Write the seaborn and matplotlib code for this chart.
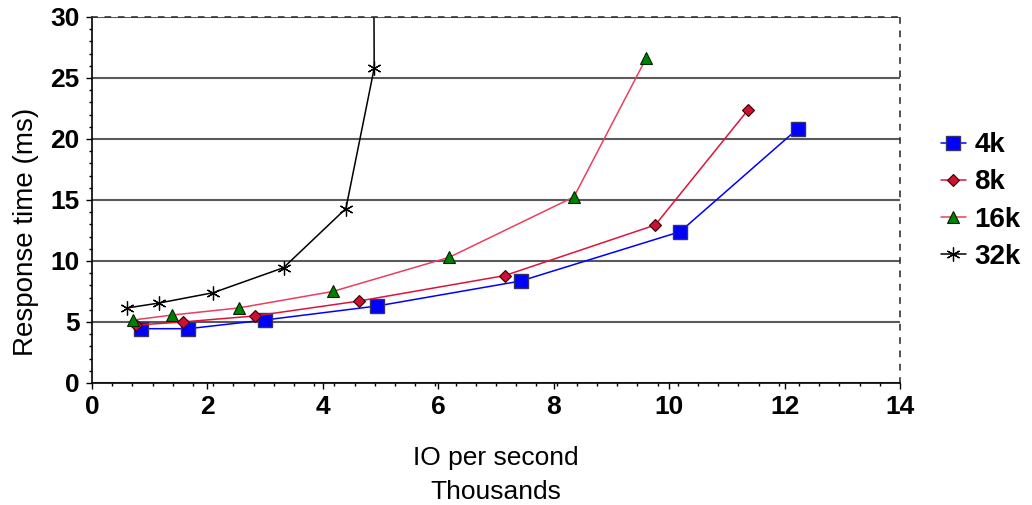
import matplotlib
matplotlib.use("Agg")
import matplotlib.pyplot as plt
import seaborn as sns
import pandas as pd
from matplotlib.ticker import MultipleLocator

# values (x in thousands of IO/s, y in ms)
io_4k = [0.85, 1.67, 2.99, 4.94, 7.43, 10.19, 12.23]
rt_4k = [4.45, 4.45, 5.16, 6.31, 8.36, 12.40, 20.85]

io_8k = [0.77, 1.57, 2.83, 4.63, 7.15, 9.76, 11.37]
rt_8k = [4.75, 5.00, 5.50, 6.72, 8.80, 12.95, 22.40]

io_16k = [0.71, 1.39, 2.54, 4.17, 6.19, 8.35, 9.60]
rt_16k = [5.16, 5.57, 6.15, 7.50, 10.30, 15.25, 26.60]

io_32k = [0.61, 1.17, 2.10, 3.32, 4.40, 4.89, 4.86]
rt_32k = [6.15, 6.56, 7.40, 9.45, 14.30, 25.80, 60.0]

series = ["4k", "8k", "16k", "32k"]

sns.set_style("white")
plt.rcParams["font.family"] = ["Liberation Sans", "DejaVu Sans"]
plt.rcParams["text.color"] = "black"
plt.rcParams["axes.labelcolor"] = "black"
plt.rcParams["xtick.color"] = "black"
plt.rcParams["ytick.color"] = "black"

fig = plt.figure(figsize=(10.32, 5.05), dpi=100)
ax = fig.add_axes([0.0891, 0.2416, 0.783, 0.7248])

ax.set_axisbelow(True)
ax.yaxis.grid(True, color="#5a5a5a", linewidth=1.5)

styles = {
    "4k": dict(color="#0000ff", marker="s", markersize=10, markerfacecolor="#0000ff",
               markeredgecolor="#333366", markeredgewidth=1.0),
    "8k": dict(color="#dc143c", marker="D", markersize=6.5, markerfacecolor="#cc1133",
               markeredgecolor="#330000", markeredgewidth=0.8),
    "16k": dict(color="#e8405e", marker="^", markersize=9, markerfacecolor="#008000",
                markeredgecolor="#002200", markeredgewidth=0.8),
    "32k": dict(color="black", marker=(6, 2, 0), markersize=10, markerfacecolor="black",
                markeredgecolor="black", markeredgewidth=0.9),
}

data = {"4k": (io_4k, rt_4k), "8k": (io_8k, rt_8k), "16k": (io_16k, rt_16k), "32k": (io_32k, rt_32k)}

for name in series:
    xs, ys = data[name]
    df = pd.DataFrame({"io": xs, "rt": ys})
    st = styles[name]
    sns.lineplot(data=df, x="io", y="rt", sort=False, ax=ax, label=name,
                 linewidth=1.1, **st)

ax.set_xlim(0, 14)
ax.set_ylim(0, 30)
ax.xaxis.set_major_locator(MultipleLocator(2))
ax.yaxis.set_major_locator(MultipleLocator(5))
ax.xaxis.set_minor_locator(MultipleLocator(0.35))
ax.yaxis.set_minor_locator(MultipleLocator(1))
ax.tick_params(axis="both", which="major", direction="out", length=4, width=1,
               labelsize=19, pad=5, left=True, bottom=True)
ax.tick_params(axis="both", which="minor", direction="out", length=2, width=1,
               left=True, bottom=True)
for lab in ax.get_xticklabels() + ax.get_yticklabels():
    lab.set_fontweight("bold")

for side in ["left", "bottom"]:
    ax.spines[side].set_color("black")
    ax.spines[side].set_linewidth(1.2)
for side in ["top", "right"]:
    ax.spines[side].set_color("#333333")
    ax.spines[side].set_linewidth(1.2)
    ax.spines[side].set_linestyle((0, (3, 5)))

ax.set_xlabel("IO per second\nThousands", fontsize=19, linespacing=1.55, labelpad=19)
ax.set_ylabel("Response time (ms)", fontsize=20, labelpad=8)
ax.yaxis.label.set_y(0.413)

ax.legend_.remove()
handles, labels = ax.get_legend_handles_labels()
fig.legend(handles, labels, loc="center left", bbox_to_anchor=(0.8875, 0.602),
           frameon=False, prop={"size": 20, "weight": "bold"},
           handlelength=0.9, labelspacing=0.4, handletextpad=0.3)

fig.savefig("out.png", dpi=100)
